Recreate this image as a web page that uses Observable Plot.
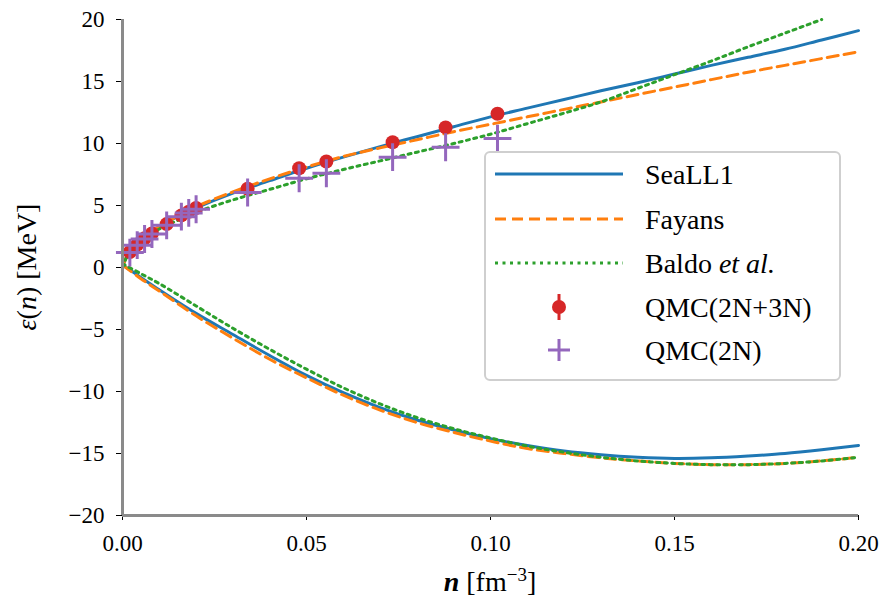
<!DOCTYPE html>
<html>
<head>
<meta charset="utf-8">
<script src="https://cdn.jsdelivr.net/npm/d3@7"></script>
<script src="https://cdn.jsdelivr.net/npm/@observablehq/plot@0.6"></script>
<style>
  body { margin: 0; background: #fff; font-family: Liberation Serif; }
  #wrap { width: 883px; height: 598px; }
</style>
</head>
<body>
<div id="wrap"></div>
<script>
// ---- data ----
const xTicks = [0, 0.05, 0.10, 0.15, 0.20];
const yTicks = [-20, -15, -10, -5, 0, 5, 10, 15, 20];

// neutron matter (upper branch)
const nUpper     = [0, 0.001, 0.0025, 0.005, 0.01, 0.015, 0.02, 0.03, 0.04, 0.05, 0.06, 0.07, 0.08, 0.09, 0.10, 0.11, 0.12, 0.13, 0.14, 0.15, 0.16, 0.17, 0.18, 0.19, 0.20];
const seaUpper   = [0, 0.8, 1.5, 2.2, 3.3, 4.1, 4.8, 6.0, 7.0, 8.0, 8.9, 9.75, 10.55, 11.35, 12.15, 12.85, 13.55, 14.25, 14.9, 15.6, 16.3, 16.95, 17.6, 18.35, 19.1];
const fayUpper   = [0, 0.8, 1.5, 2.2, 3.3, 4.15, 4.9, 6.1, 7.15, 8.1, 8.95, 9.65, 10.3, 10.95, 11.55, 12.15, 12.75, 13.35, 13.95, 14.55, 15.15, 15.75, 16.3, 16.85, 17.4];
const baldoUpper = [0, 0.75, 1.4, 2.1, 3.1, 3.8, 4.45, 5.45, 6.3, 7.15, 7.9, 8.6, 9.3, 10.0, 10.75, 11.6, 12.45, 13.35, 14.45, 15.55, 16.65, 17.8, 18.9, 20.0];

// symmetric matter (lower branch)
const nLower     = [0, 0.005, 0.01, 0.02, 0.03, 0.04, 0.05, 0.06, 0.07, 0.08, 0.09, 0.10, 0.11, 0.12, 0.13, 0.14, 0.15, 0.16, 0.17, 0.18, 0.19, 0.20];
const seaLower   = [0.2, -0.8, -1.8, -3.7, -5.4, -7.1, -8.7, -10.1, -11.3, -12.3, -13.1, -13.8, -14.35, -14.8, -15.1, -15.3, -15.4, -15.35, -15.2, -15.0, -14.7, -14.35];
const fayLower   = [0.2, -0.9, -1.9, -3.9, -5.7, -7.4, -8.9, -10.3, -11.5, -12.5, -13.3, -14.0, -14.6, -15.0, -15.35, -15.6, -15.8, -15.9, -15.9, -15.8, -15.6, -15.3];
const baldoLower = [0.3, -0.5, -1.3, -3.1, -4.9, -6.6, -8.2, -9.7, -11.0, -12.1, -13.0, -13.75, -14.4, -14.9, -15.3, -15.6, -15.8, -15.9, -15.9, -15.8, -15.6, -15.3];

// QMC points
const nQMC      = [0.002, 0.004, 0.006, 0.008, 0.012, 0.016, 0.018, 0.020, 0.034, 0.048, 0.0554, 0.0734, 0.0878, 0.1019];
const qmc2N3N   = [1.25, 1.85, 2.35, 2.75, 3.5, 4.2, 4.5, 4.8, 6.35, 8.0, 8.55, 10.1, 11.3, 12.4];
const qmc2N     = [1.2, 1.8, 2.3, 2.7, 3.4, 4.1, 4.4, 4.7, 6.05, 7.2, 7.6, 8.9, 9.7, 10.4];

const legendLabels = ["SeaLL1", "Fayans", "Baldo", "QMC(2N+3N)", "QMC(2N)"];
const yLabel = ["ε", "(", "n", ") [MeV]"];
const xLabel = ["n", " [fm", "−3", "]"];

const C = {blue: "#1f77b4", orange: "#ff7f0e", green: "#2ca02c", red: "#d62728", purple: "#9467bd"};
const FAM = "Liberation Serif";

const rows = (xs, ys) => ys.map((v, i) => ({n: xs[i], v}));
const lineOpts = (color, dash) => ({x: "n", y: "v", stroke: color, strokeWidth: 3, curve: "catmull-rom", strokeDasharray: dash});

const chart = Plot.plot({
  width: 883,
  height: 598,
  marginLeft: 122,
  marginRight: 25,
  marginTop: 19,
  marginBottom: 83,
  style: {background: "#fff", color: "#000"},
  x: {domain: [0, 0.2]},
  y: {domain: [-20, 20]},
  marks: [
    Plot.axisX({ticks: xTicks, tickFormat: d3.format(".2f"), tickSize: 5, tickPadding: 14, label: null, fontSize: 23}),
    Plot.axisY({ticks: yTicks, tickSize: 6, tickPadding: 12, label: null, fontSize: 23}),
    Plot.line(rows(nUpper, seaUpper), lineOpts(C.blue, null)),
    Plot.line(rows(nLower, seaLower), lineOpts(C.blue, null)),
    Plot.line(rows(nUpper, fayUpper), lineOpts(C.orange, "11,6")),
    Plot.line(rows(nLower, fayLower), lineOpts(C.orange, "11,6")),
    Plot.line(rows(nUpper, baldoUpper), lineOpts(C.green, "3,4.5")),
    Plot.line(rows(nLower, baldoLower), lineOpts(C.green, "3,4.5")),
    Plot.dot(rows(nQMC, qmc2N3N), {x: "n", y: "v", r: 7, fill: C.red, stroke: "none"}),
    Plot.dot(rows(nQMC, qmc2N), {x: "n", y: "v", r: 9, symbol: "plus", stroke: C.purple, strokeWidth: 3}),
    Plot.ruleX([0], {stroke: "#8a8a8a", strokeWidth: 3}),
    Plot.ruleY([-20], {stroke: "#8a8a8a", strokeWidth: 3})
  ]
});

chart.setAttribute("font-family", FAM);
document.getElementById("wrap").appendChild(chart);
const svg = d3.select(chart);
svg.selectAll("g").filter(function () { return this.hasAttribute("font-family"); }).attr("font-family", FAM);

// axis labels
const yl = svg.append("text")
  .attr("transform", "translate(30,267) rotate(-90)")
  .attr("text-anchor", "middle")
  .attr("dominant-baseline", "middle")
  .attr("font-size", 28).attr("fill", "#000");
yl.append("tspan").attr("font-style", "italic").text(yLabel[0]);
yl.append("tspan").text(yLabel[1]);
yl.append("tspan").attr("font-style", "italic").text(yLabel[2]);
yl.append("tspan").text(yLabel[3]);

const xl = svg.append("text")
  .attr("x", 490).attr("y", 591)
  .attr("text-anchor", "middle")
  .attr("font-size", 28).attr("fill", "#000");
xl.append("tspan").attr("font-style", "italic").attr("font-weight", "bold").text(xLabel[0]);
xl.append("tspan").text(xLabel[1]);
xl.append("tspan").attr("baseline-shift", "super").attr("font-size", 19).text(xLabel[2]);
xl.append("tspan").text(xLabel[3]);

// legend
const lg = svg.append("g").attr("font-family", FAM);
lg.append("rect").attr("x", 485).attr("y", 152).attr("width", 355).attr("height", 228)
  .attr("rx", 5).attr("fill", "#fff").attr("fill-opacity", 0.9)
  .attr("stroke", "#cfcfcf").attr("stroke-width", 2);
const ys = [174, 219, 263, 307, 350];
const lx0 = 495, lx1 = 623, mx = 559, tx = 645;
lg.append("line").attr("x1", lx0).attr("x2", lx1).attr("y1", ys[0]).attr("y2", ys[0]).attr("stroke", C.blue).attr("stroke-width", 3);
lg.append("line").attr("x1", lx0).attr("x2", lx1).attr("y1", ys[1]).attr("y2", ys[1]).attr("stroke", C.orange).attr("stroke-width", 3).attr("stroke-dasharray", "11,6");
lg.append("line").attr("x1", lx0).attr("x2", lx1).attr("y1", ys[2]).attr("y2", ys[2]).attr("stroke", C.green).attr("stroke-width", 3).attr("stroke-dasharray", "3,4.5");
lg.append("line").attr("x1", mx).attr("x2", mx).attr("y1", ys[3] - 13).attr("y2", ys[3] + 13).attr("stroke", C.red).attr("stroke-width", 3);
lg.append("circle").attr("cx", mx).attr("cy", ys[3]).attr("r", 7).attr("fill", C.red);
lg.append("line").attr("x1", mx - 11).attr("x2", mx + 11).attr("y1", ys[4]).attr("y2", ys[4]).attr("stroke", C.purple).attr("stroke-width", 3);
lg.append("line").attr("x1", mx).attr("x2", mx).attr("y1", ys[4] - 11).attr("y2", ys[4] + 11).attr("stroke", C.purple).attr("stroke-width", 3);
legendLabels.forEach((lab, i) => {
  const t = lg.append("text").attr("x", tx).attr("y", ys[i]).attr("dominant-baseline", "central")
    .attr("text-anchor", "start").attr("fill", "#000").attr("font-size", 28);
  t.append("tspan").text(lab);
  if (lab === "Baldo") t.append("tspan").attr("font-style", "italic").text(" et al.");
});

// font family as a plain presentation attribute on every text
svg.selectAll("text").attr("font-family", FAM).style("font-family", FAM);
svg.selectAll("g[aria-label$='tick label'] text").attr("font-size", 23);
</script>
</body>
</html>
